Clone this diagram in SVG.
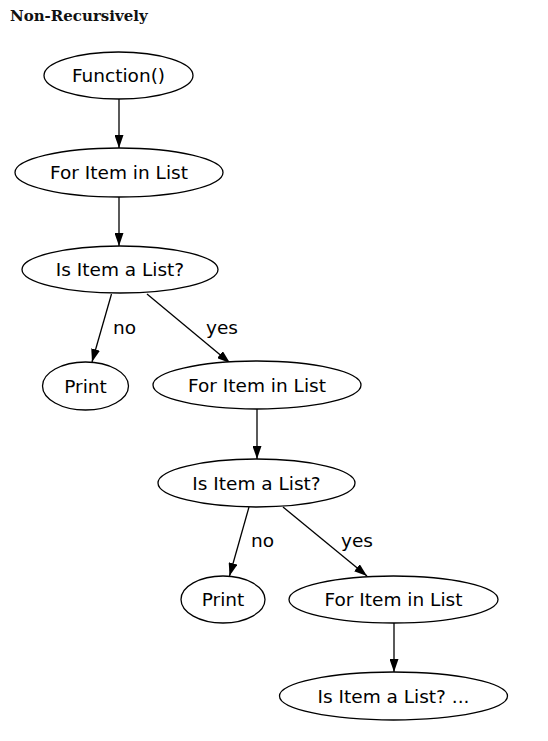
<svg xmlns="http://www.w3.org/2000/svg" width="548" height="741" viewBox="0 0 548 741">
<style>
.n ellipse{fill:#fff;stroke:#000;stroke-width:1.3}
.n text,.lbl{font-family:"DejaVu Sans",sans-serif;font-size:18.5px;fill:#000}
.n text{text-anchor:middle}
.e line{stroke:#000;stroke-width:1.3;marker-end:url(#ah)}
.title{font-family:"DejaVu Serif",serif;font-weight:bold;font-size:15px;fill:#111}
</style>
<defs>
<marker id="ah" viewBox="0 0 13 9" refX="13" refY="4.5" markerWidth="13" markerHeight="9" markerUnits="userSpaceOnUse" orient="auto">
<path d="M0,0 L13,4.5 L0,9 z" fill="#000"/>
</marker>
</defs>
<rect width="548" height="741" fill="#fff"/>
<text class="title" x="10" y="21">Non-Recursively</text>
<g id="edges" class="e">
<line x1="119" y1="99" x2="119" y2="148"/>
<line x1="119" y1="197" x2="119" y2="246"/>
<line x1="111.5" y1="294" x2="92" y2="362"/>
<line x1="147" y1="294" x2="230" y2="363"/>
<line x1="257" y1="409" x2="257" y2="459"/>
<line x1="249" y1="507" x2="229.5" y2="576"/>
<line x1="283" y1="507" x2="367" y2="576"/>
<line x1="394" y1="623" x2="394" y2="672"/>
<text class="lbl" x="113" y="334">no</text>
<text class="lbl" x="206" y="334">yes</text>
<text class="lbl" x="251" y="547">no</text>
<text class="lbl" x="341" y="547">yes</text>
</g>
<g id="n1" class="n"><ellipse cx="118.5" cy="75.5" rx="74.5" ry="23.5"/><text x="118.5" y="82">Function()</text></g>
<g id="n2" class="n"><ellipse cx="119" cy="172.5" rx="104" ry="24.5"/><text x="119" y="179">For Item in List</text></g>
<g id="n3" class="n"><ellipse cx="120" cy="269.5" rx="98" ry="23.5"/><text x="120" y="276">Is Item a List?</text></g>
<g id="n4" class="n"><ellipse cx="85.5" cy="386" rx="43" ry="24"/><text x="85.5" y="392.5">Print</text></g>
<g id="n5" class="n"><ellipse cx="257" cy="385" rx="104" ry="24"/><text x="257" y="391.5">For Item in List</text></g>
<g id="n6" class="n"><ellipse cx="256.5" cy="483" rx="98.5" ry="24"/><text x="256.5" y="489.5">Is Item a List?</text></g>
<g id="n7" class="n"><ellipse cx="223" cy="599.5" rx="42" ry="23.5"/><text x="223" y="606">Print</text></g>
<g id="n8" class="n"><ellipse cx="393.5" cy="599.5" rx="104.5" ry="23.5"/><text x="393.5" y="606">For Item in List</text></g>
<g id="n9" class="n"><ellipse cx="393.5" cy="696" rx="114" ry="24"/><text x="393.5" y="702.5">Is Item a List? ...</text></g>
</svg>
